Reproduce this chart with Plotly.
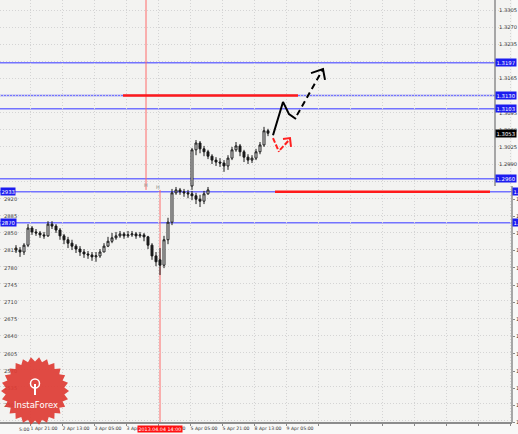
import numpy as np
import plotly.graph_objects as go

# ---------------- data ----------------
# trading-hour index (weekend removed), 0 = 1 Apr 2013 00:00
lower_idx = list(range(14, 112, 2))
lower_open = [1.2818, 1.2814, 1.2810, 1.2824, 1.2859, 1.2851, 1.2849, 1.2845, 1.2843, 1.2867,
              1.2863, 1.2855, 1.2843, 1.2835, 1.2828, 1.2822, 1.2816, 1.2810, 1.2806, 1.2804,
              1.2800, 1.2802, 1.2810, 1.2822, 1.2832, 1.2839, 1.2843, 1.2847, 1.2843, 1.2845,
              1.2847, 1.2843, 1.2845, 1.2841, 1.2824, 1.2802, 1.2794, 1.2783, 1.2835, 1.2871,
              1.2931, 1.2937, 1.2933, 1.2931, 1.2929, 1.2925, 1.2918, 1.2914, 1.2929]
lower_high = [1.2824, 1.2820, 1.2828, 1.2867, 1.2863, 1.2857, 1.2853, 1.2851, 1.2873, 1.2873,
              1.2867, 1.2859, 1.2847, 1.2841, 1.2835, 1.2826, 1.2822, 1.2816, 1.2812, 1.2810,
              1.2810, 1.2816, 1.2828, 1.2841, 1.2849, 1.2851, 1.2853, 1.2851, 1.2853, 1.2853,
              1.2851, 1.2851, 1.2849, 1.2843, 1.2828, 1.2810, 1.2818, 1.2843, 1.2880, 1.2939,
              1.2943, 1.2941, 1.2939, 1.2937, 1.2935, 1.2931, 1.2927, 1.2935, 1.2943]
lower_low = [1.2808, 1.2800, 1.2804, 1.2820, 1.2845, 1.2843, 1.2839, 1.2837, 1.2841, 1.2857,
             1.2849, 1.2835, 1.2826, 1.2818, 1.2814, 1.2808, 1.2802, 1.2798, 1.2796, 1.2792,
             1.2790, 1.2798, 1.2810, 1.2820, 1.2828, 1.2835, 1.2839, 1.2837, 1.2839, 1.2841,
             1.2837, 1.2839, 1.2832, 1.2816, 1.2794, 1.2781, 1.2763, 1.2777, 1.2826, 1.2865,
             1.2927, 1.2927, 1.2923, 1.2920, 1.2916, 1.2908, 1.2902, 1.2908, 1.2927]
lower_close = [1.2814, 1.2810, 1.2824, 1.2859, 1.2851, 1.2849, 1.2845, 1.2843, 1.2867, 1.2863,
               1.2855, 1.2843, 1.2835, 1.2828, 1.2822, 1.2816, 1.2810, 1.2806, 1.2804, 1.2800,
               1.2802, 1.2810, 1.2822, 1.2832, 1.2839, 1.2843, 1.2847, 1.2843, 1.2845, 1.2847,
               1.2843, 1.2845, 1.2841, 1.2824, 1.2802, 1.2790, 1.2783, 1.2835, 1.2871, 1.2931,
               1.2937, 1.2933, 1.2931, 1.2929, 1.2925, 1.2918, 1.2914, 1.2929, 1.2937]

upper_idx = list(range(102, 142, 2))
upper_open = [1.2945, 1.3019, 1.3033, 1.3021, 1.3015, 1.3006, 1.2998, 1.2994, 1.2992, 1.2986,
              1.3002, 1.3019, 1.3027, 1.3015, 1.3004, 1.2998, 1.3002, 1.3015, 1.3029, 1.3058]
upper_high = [1.3023, 1.3039, 1.3037, 1.3027, 1.3019, 1.3010, 1.3004, 1.3002, 1.2998, 1.3008,
              1.3025, 1.3035, 1.3031, 1.3019, 1.3010, 1.3008, 1.3021, 1.3035, 1.3066, 1.3062]
upper_low = [1.2937, 1.3008, 1.3012, 1.3006, 1.3000, 1.2990, 1.2986, 1.2984, 1.2974, 1.2978,
             1.2998, 1.3015, 1.3006, 1.2994, 1.2990, 1.2992, 1.2998, 1.3010, 1.3025, 1.3047]
upper_close = [1.3019, 1.3033, 1.3021, 1.3015, 1.3006, 1.2998, 1.2994, 1.2992, 1.2986, 1.3002,
               1.3019, 1.3027, 1.3015, 1.3004, 1.2998, 1.3002, 1.3015, 1.3029, 1.3058, 1.3053]

# horizontal levels
upper_levels = [1.3197, 1.3130, 1.3103, 1.2960]
lower_levels = [1.2933, 1.2870]
resist_level, resist_from, resist_to = 1.3130, 67.5, 155
support_level, support_from, support_to = 1.2933, 143.5, 251
current_price = 1.3053

# forecast arrows
black_solid_x = [142.5, 147.5, 150.5, 154]
black_solid_y = [1.3049, 1.3117, 1.3092, 1.3082]
black_dash_x = [154.5, 167.5]
black_dash_y = [1.3090, 1.3184]
black_head_x = [161.5, 167.5, 168.5]
black_head_y = [1.3176, 1.3184, 1.3162]
red_path_x = [142.5, 145.5, None, 146, 151]
red_path_y = [1.3043, 1.3015, None, 1.3019, 1.3041]
red_head_x = [147.5, 151, 151.5]
red_head_y = [1.3041, 1.3043, 1.3025]

# vertical markers
upper_vline_idx, lower_vline_idx, vline_split = 79, 86, 1.2937

# ticks
price_ticks = [1.3305, 1.3270, 1.3235, 1.3200, 1.3165, 1.3130, 1.3095, 1.3060, 1.3025, 1.2990,
               1.2955, 1.2920, 1.2885, 1.2850, 1.2815, 1.2780, 1.2745, 1.2710, 1.2675, 1.2640,
               1.2605, 1.2570, 1.2535, 1.2500, 1.2465]
upper_tick_labels = ["1.3305", "1.3270", "1.3235", "", "1.3165", "", "1.3095",
                     "1.3060", "1.3025", "1.2990", ""]
lower_ticks = [1.2920, 1.2885, 1.2850, 1.2815, 1.2780, 1.2745, 1.2710, 1.2675, 1.2640,
               1.2605, 1.2570, 1.2535, 1.2500, 1.2465]
left_tick_labels = ["2920", "2885", "2850", "2815", "2780", "2745", "2710", "2675", "2640",
                    "2605", "2570", "2535", "2500", "2465"]
right_cut_labels = ["1.2920", "1.2885", "1.2850", "1.2815", "1.2780", "1.2745", "1.2710",
                    "1.2675", "1.2640", "1.2605", "1.2570", "1.2535", "1.2500", "1.2465"]
time_ticks = [21, 37, 53, 69, 85, 101, 117, 133, 149, 165, 181, 197, 213, 229, 245, 261]
time_labels = ["1 Apr 21:00", "2 Apr 13:00", "3 Apr 05:00", "3 Apr 21:00", "4 Apr 13:00",
               "5 Apr 05:00", "5 Apr 21:00", "8 Apr 13:00", "9 Apr 05:00",
               "", "", "", "", "", "", ""]

# ---------------- geometry ----------------
W_PLOT, H_PLOT = 512, 423
X_RANGE = [6, 262]
Y_RANGE = [1.24602, 1.33255]
Y_RANGE_LOW = [1.24642, 1.33250]
AXIS_POS = 495 / W_PLOT


def pp(x, y):
    return x / W_PLOT, (H_PLOT - y) / H_PLOT


FONT = "DejaVu Sans"
BLUE = "#7373ff"
BADGE = "#1c1cf0"
GRID = "#d4d4d4"

fig = go.Figure()

for xs, o, h, l, c in [(lower_idx, lower_open, lower_high, lower_low, lower_close),
                       (upper_idx, upper_open, upper_high, upper_low, upper_close)]:
    fig.add_trace(go.Candlestick(
        x=xs, open=o, high=h, low=l, close=c,
        increasing=dict(line=dict(color="#1a1a1a", width=1), fillcolor="#ffffff"),
        decreasing=dict(line=dict(color="#1a1a1a", width=1), fillcolor="#1a1a1a"),
        whiskerwidth=0, showlegend=False, hoverinfo="skip"))

# forecast arrows
fig.add_trace(go.Scatter(x=black_solid_x, y=black_solid_y, mode="lines",
                         line=dict(color="#000000", width=2), showlegend=False, hoverinfo="skip"))
fig.add_trace(go.Scatter(x=black_dash_x, y=black_dash_y, mode="lines",
                         line=dict(color="#000000", width=2, dash="6px,4px"), showlegend=False,
                         hoverinfo="skip"))
fig.add_trace(go.Scatter(x=black_head_x, y=black_head_y, mode="lines",
                         line=dict(color="#000000", width=2), showlegend=False, hoverinfo="skip"))
fig.add_trace(go.Scatter(x=red_path_x, y=red_path_y, mode="lines",
                         line=dict(color="#ff2020", width=2, dash="5px,2px"), showlegend=False,
                         hoverinfo="skip"))
fig.add_trace(go.Scatter(x=red_head_x, y=red_head_y, mode="lines",
                         line=dict(color="#ff2020", width=2), showlegend=False, hoverinfo="skip"))

shapes = []
annotations = []

for lv in upper_levels:
    shapes.append(dict(type="line", xref="x", yref="y", x0=X_RANGE[0], x1=X_RANGE[0] + 2 * 247.5,
                       y0=lv, y1=lv, line=dict(color=BLUE, width=1.5), layer="below"))
for lv in lower_levels:
    shapes.append(dict(type="line", xref="paper", yref="y", x0=0, x1=1,
                       y0=lv, y1=lv, line=dict(color=BLUE, width=1.5), layer="below"))
shapes.append(dict(type="line", xref="x", yref="y", x0=resist_from, x1=resist_to,
                   y0=resist_level, y1=resist_level, line=dict(color="#ff1a1a", width=2.5)))
shapes.append(dict(type="line", xref="x", yref="y", x0=support_from, x1=support_to,
                   y0=support_level, y1=support_level, line=dict(color="#ff1a1a", width=2.5)))
shapes.append(dict(type="line", xref="x", yref="y", x0=upper_vline_idx, x1=upper_vline_idx,
                   y0=vline_split, y1=Y_RANGE[1], line=dict(color="#ff6a6a", width=1),
                   layer="below"))
shapes.append(dict(type="line", xref="x", yref="y", x0=lower_vline_idx, x1=lower_vline_idx,
                   y0=Y_RANGE[0], y1=vline_split, line=dict(color="#ff6a6a", width=1),
                   layer="below"))
shapes.append(dict(type="line", xref="paper", yref="paper", x0=AXIS_POS, x1=AXIS_POS,
                   y0=pp(0, 186)[1], y1=1, line=dict(color="#8c8c8c", width=1.5)))
shapes.append(dict(type="line", xref="paper", yref="paper", x0=1, x1=1,
                   y0=0, y1=pp(0, 186)[1], line=dict(color="#8c8c8c", width=1.5)))
shapes.append(dict(type="line", xref="paper", yref="paper", x0=0, x1=1,
                   y0=0, y1=0, line=dict(color="#8c8c8c", width=2)))

# InstaForex watermark (decorative starburst)
cx, cy, r_out, r_in, n = 35, 391, 34, 29.5, 26
pts = []
for k in range(2 * n):
    a = np.pi * k / n
    r = r_out if k % 2 == 0 else r_in
    pts.append(pp(cx + r * np.cos(a), cy + r * np.sin(a)))
path = "M " + " L ".join(f"{x:.4f},{y:.4f}" for x, y in pts) + " Z"
shapes.append(dict(type="path", xref="paper", yref="paper", path=path,
                   fillcolor="rgba(222,60,52,0.92)", line=dict(width=0)))
ex0, ey0 = pp(30.5, 379)
ex1, ey1 = pp(39.5, 388)
shapes.append(dict(type="circle", xref="paper", yref="paper", x0=ex0, x1=ex1, y0=ey1, y1=ey0,
                   line=dict(color="white", width=1.5)))
lx, ly0 = pp(35, 384)
_, ly1 = pp(35, 395)
shapes.append(dict(type="line", xref="paper", yref="paper", x0=lx, x1=lx, y0=ly1, y1=ly0,
                   line=dict(color="white", width=2)))
tx, ty = pp(36, 405)
annotations.append(dict(x=tx, y=ty, xref="paper", yref="paper", text="InstaForex",
                        showarrow=False, xanchor="center", yanchor="middle",
                        font=dict(family=FONT, size=8.5, color="white")))


def badge(x, y, text, bg, xref="paper", yref="y", xanchor="left", size=5.3):
    annotations.append(dict(x=x, y=y, xref=xref, yref=yref, text=text, showarrow=False,
                            xanchor=xanchor, yanchor="middle", bgcolor=bg, borderpad=0.5,
                            font=dict(family=FONT, size=size, color="white")))


for lv in upper_levels:
    badge(AXIS_POS, lv, f"{lv:.4f}", BADGE)
badge(AXIS_POS, current_price, f"{current_price:.4f}", "#000000")
for lv in lower_levels:
    badge(1.0, lv, f"{lv:.4f}", BADGE)
    badge(0, lv, f"{lv:.4f}"[2:], BADGE)

annotations.append(dict(x=lower_vline_idx, y=pp(0, 429)[1], xref="x", yref="paper",
                        text="2013.04.04 14:00", showarrow=False, bgcolor="#ff1010",
                        xanchor="center", yanchor="middle",
                        borderpad=0.5, font=dict(family=FONT, size=4.8, color="white")))
annotations.append(dict(x=pp(17, 0)[0], y=pp(0, 429)[1], xref="paper", yref="paper",
                        text="5:00", showarrow=False, xanchor="left", yanchor="middle",
                        font=dict(family=FONT, size=4.6, color="#333333")))
for hx, hy in [(146, 185), (158, 187)]:
    px_, py_ = pp(hx, hy)
    annotations.append(dict(x=px_, y=py_, xref="paper", yref="paper", text="H",
                            showarrow=False, xanchor="center", yanchor="middle",
                            font=dict(family=FONT, size=5, color="#8a8a8a")))

fig.update_layout(
    width=518, height=434,
    margin=dict(l=0, r=6, t=0, b=11, autoexpand=False),
    paper_bgcolor="#f8f8f7", plot_bgcolor="#f3f3f1",
    font=dict(family=FONT, size=5.5, color="#333333"),
    showlegend=False,
    shapes=shapes, annotations=annotations,
    xaxis=dict(range=X_RANGE, domain=[0, 1], rangeslider=dict(visible=False),
               tickmode="array", tickvals=time_ticks, ticktext=time_labels, tickangle=0,
               ticklabelposition="outside right", ticks="outside", ticklen=2,
               tickcolor="#888888", tickfont=dict(size=4.6, color="#333333"),
               showgrid=True, gridcolor=GRID, griddash="1px,2px", gridwidth=1,
               zeroline=False, showline=False, fixedrange=True, automargin=False),
    yaxis=dict(range=Y_RANGE, side="right", anchor="free", position=AXIS_POS,
               tickmode="array", tickvals=price_ticks,
               ticktext=upper_tick_labels + [""] * (len(price_ticks) - len(upper_tick_labels)),
               ticks="", tickfont=dict(size=5.2, color="#333333"), ticklabelstandoff=3,
               showgrid=True, gridcolor=GRID, griddash="1px,2px", gridwidth=1,
               zeroline=False, showline=False, fixedrange=True, automargin=False),
    yaxis2=dict(range=Y_RANGE_LOW, overlaying="y", side="left", anchor="free", position=0,
                tickmode="array", tickvals=lower_ticks, ticktext=left_tick_labels,
                ticklabelposition="inside", ticks="", tickfont=dict(size=5.2, color="#444444"),
                showgrid=False, zeroline=False, showline=False, fixedrange=True,
                automargin=False),
    yaxis3=dict(range=Y_RANGE_LOW, overlaying="y", side="right", anchor="free", position=1,
                tickmode="array", tickvals=lower_ticks, ticktext=right_cut_labels,
                ticks="outside", ticklen=2, tickcolor="#888888",
                tickfont=dict(size=5.2, color="#333333"),
                showgrid=False, zeroline=False, showline=False, fixedrange=True,
                automargin=False),
)

fig.add_trace(go.Scatter(x=[X_RANGE[0]], y=[1.27], yaxis="y2", mode="markers",
                         marker=dict(opacity=0), showlegend=False, hoverinfo="skip"))
fig.add_trace(go.Scatter(x=[X_RANGE[0]], y=[1.27], yaxis="y3", mode="markers",
                         marker=dict(opacity=0), showlegend=False, hoverinfo="skip"))

fig.write_html("out.html", config={"displayModeBar": False},
               post_script="document.body.style.margin='0';document.body.style.overflow='hidden';")
